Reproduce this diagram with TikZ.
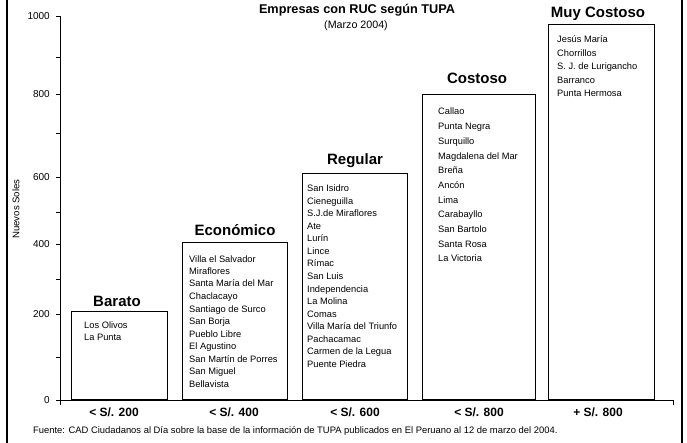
\documentclass[tikz,border=0pt]{standalone}
\usepackage{fontspec}
\setmainfont{Liberation Sans}
\begin{document}
\begin{tikzpicture}[x=1pt,y=-1pt,
  cat/.style={font=\bfseries\fontsize{15}{17}\selectfont, inner sep=0},
  item/.style={font=\fontsize{9.3}{11}\selectfont, anchor=base west, inner sep=0},
  bar/.style={draw, line width=0.8pt, anchor=south west, inner sep=0},
  ax/.style={line width=0.8pt},
  ylab/.style={font=\fontsize{10}{12}\selectfont, anchor=east, inner sep=0},
  xlab/.style={font=\bfseries\fontsize{12}{14}\selectfont, inner sep=0}]
\useasboundingbox (0,0) rectangle (687,443);
% frame lines
\coordinate (fl1) at (7,0); \coordinate (fl2) at (7,443);
\coordinate (fr1) at (682,0); \coordinate (fr2) at (682,443);
\draw[line width=2.2pt] (fl1) -- (fl2);
\draw[line width=1.6pt] (fr1) -- (fr2);
% titles
\node[font=\bfseries\fontsize{12.7}{14}\selectfont, inner sep=0] (title) at (357,10) {Empresas con RUC según TUPA};
\node[font=\fontsize{10.7}{12}\selectfont, inner sep=0] (subtitle) at (356,26) {(Marzo 2004)};
\node[font=\fontsize{9.6}{11}\selectfont, rotate=90, inner sep=0] (ytitle) at (16,209) {Nuevos Soles};
% y axis
\coordinate (ytop) at (60,16); \coordinate (ybot) at (60,405);
\draw[ax] (ytop) -- (ybot);
\foreach \y/\l in {16/1000,94/800,177/600,244/400,314/200,400/0}{
  \coordinate (tk\l) at (56,\y); \coordinate (tkb\l) at (60,\y);
  \draw[ax] (tk\l) -- (tkb\l);
  \node[ylab] (yl\l) at (50,\y) {\l};
}
\foreach \y in {57,133,212,279,357}{
  \coordinate (mt\y) at (56,\y); \coordinate (mtb\y) at (60,\y);
  \draw[ax] (mt\y) -- (mtb\y);
}
% x axis
\coordinate (xl) at (56,400); \coordinate (xr) at (673,400); \coordinate (xrt) at (673,405);
\draw[ax] (xl) -- (xr) -- (xrt);
% bars
\node[bar, minimum width=96pt, minimum height=88pt] (b1) at (71,400) {};
\node[bar, minimum width=105pt, minimum height=157pt] (b2) at (182,400) {};
\node[bar, minimum width=105pt, minimum height=226pt] (b3) at (302,400) {};
\node[bar, minimum width=113pt, minimum height=305pt] (b4) at (422,400) {};
\node[bar, minimum width=106pt, minimum height=375pt] (b5) at (548,400) {};
% category titles
\node[cat] (c1) at (117,301) {Barato};
\node[cat] (c2) at (235,230) {Económico};
\node[cat] (c3) at (355,161) {Regular};
\node[cat] (c4) at (477,78) {Costoso};
\node[cat] (c5) at (598,14) {Muy Costoso};
% lists
\foreach \t [count=\i from 0] in {Los Olivos, La Punta}{
  \node[item] (l1\i) at (84,328+12*\i) {\t};}
\foreach \t [count=\i from 0] in {Villa el Salvador, Miraflores, Santa María del Mar, Chaclacayo, Santiago de Surco, San Borja, Pueblo Libre, El Agustino, San Martín de Porres, San Miguel, Bellavista}{
  \node[item] (l2\i) at (189,262+12.5*\i) {\t};}
\foreach \t [count=\i from 0] in {San Isidro, Cieneguilla, S.J.de Miraflores, Ate, Lurín, Lince, Rímac, San Luis, Independencia, La Molina, Comas, Villa María del Triunfo, Pachacamac, Carmen de la Legua, Puente Piedra}{
  \node[item] (l3\i) at (307,192+12.5*\i) {\t};}
\foreach \t [count=\i from 0] in {Callao, Punta Negra, Surquillo, Magdalena del Mar, Breña, Ancón, Lima, Carabayllo, San Bartolo, Santa Rosa, La Victoria}{
  \node[item] (l4\i) at (438,115+14.7*\i) {\t};}
\foreach \t [count=\i from 0] in {Jesús María, Chorrillos, S. J. de Lurigancho, Barranco, Punta Hermosa}{
  \node[item] (l5\i) at (557,43+13.5*\i) {\t};}
% x labels
\node[xlab] (x1) at (114,412) {< S/. 200};
\node[xlab] (x2) at (234,412) {< S/. 400};
\node[xlab] (x3) at (355,412) {< S/. 600};
\node[xlab] (x4) at (479,412) {< S/. 800};
\node[xlab] (x5) at (598,412) {+ S/. 800};
% footer
\node[font=\fontsize{9.4}{11}\selectfont, anchor=west, inner sep=0] (foot) at (33,431) {Fuente: CAD Ciudadanos al Día sobre la base de la información de TUPA publicados en El Peruano al 12 de marzo del 2004.};
\end{tikzpicture}
\end{document}
